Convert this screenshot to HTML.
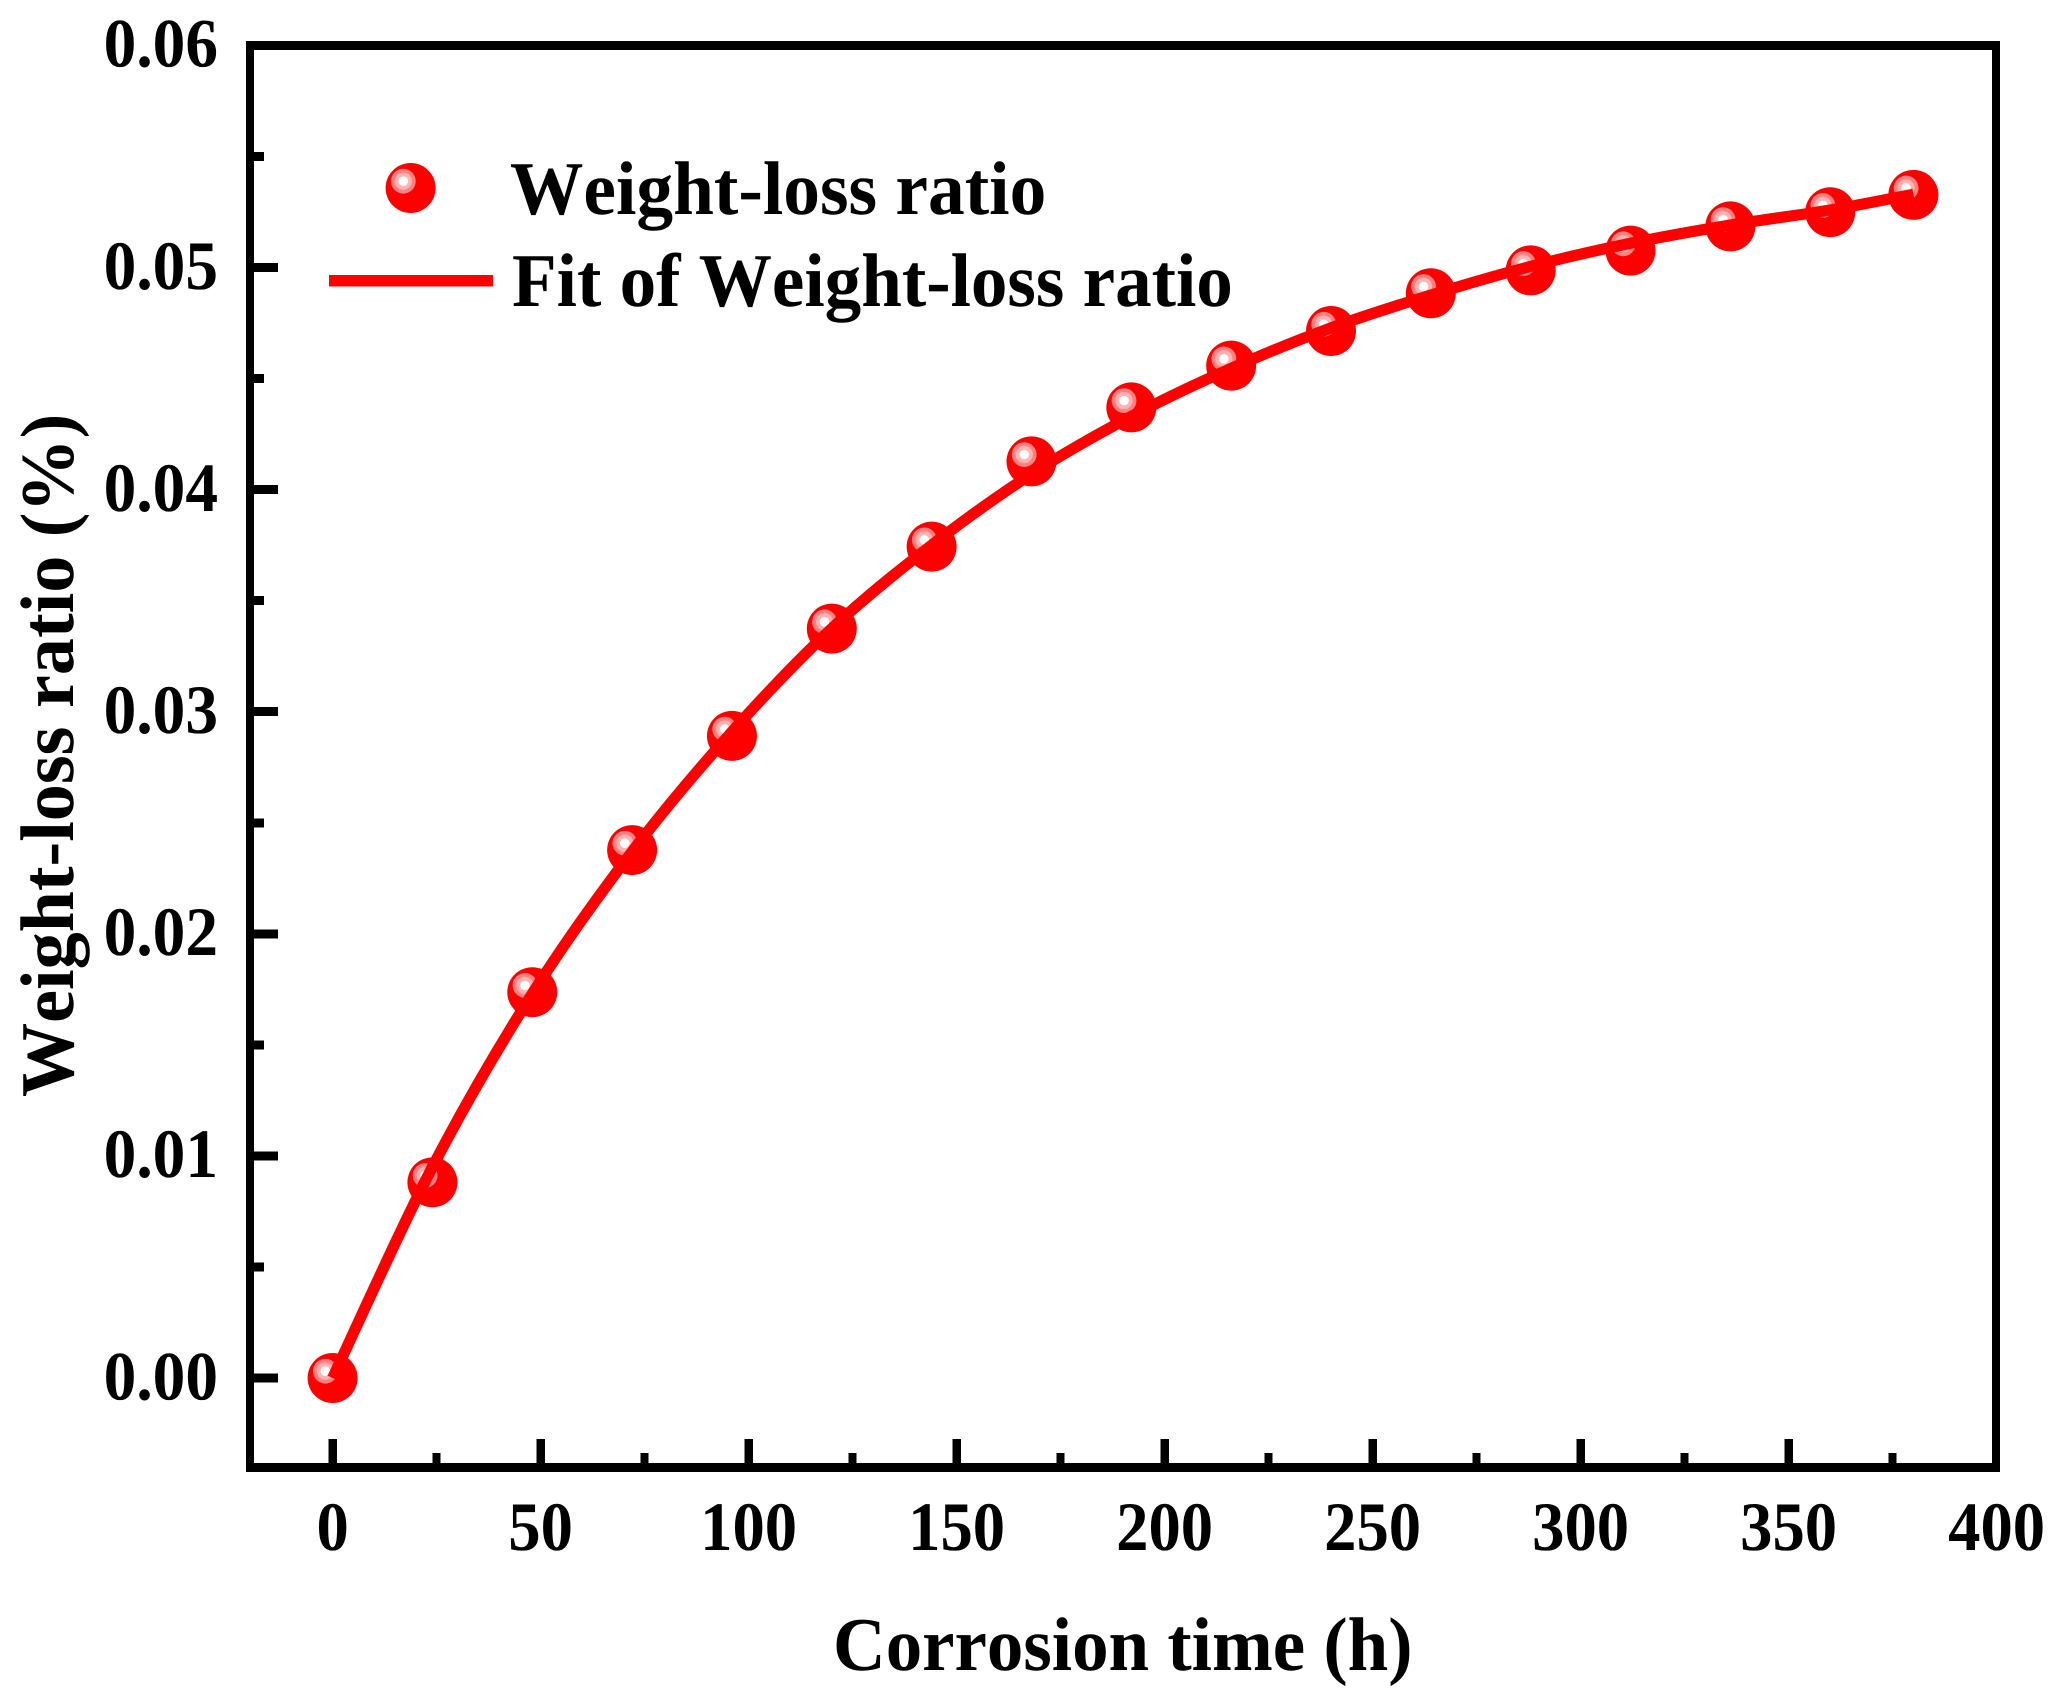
<!DOCTYPE html>
<html lang="en">
<head>
<meta charset="utf-8">
<title>Weight-loss ratio vs corrosion time</title>
<style>
  html, body { margin: 0; padding: 0; background: #ffffff; }
  svg { display: block; }
  text { font-family: "Liberation Serif", serif; font-weight: bold; fill: #000000; font-kerning: none; text-rendering: geometricPrecision; }
</style>
</head>
<body>
<svg id="chart" xmlns="http://www.w3.org/2000/svg" width="2061" height="1707" viewBox="0 0 2061 1707">
  <defs>
    <clipPath id="frame-clip"><rect x="246" y="41" width="1754" height="1431"/></clipPath>
  </defs>
  <rect x="0" y="0" width="2061" height="1707" fill="#ffffff"/>
  <g id="markers"></g>
  <path id="fit-line" fill="none" stroke="#ff0000" stroke-width="11.2" stroke-linecap="butt" stroke-linejoin="round"/>
  <g id="x-tick-marks" clip-path="url(#frame-clip)"></g>
  <g id="x-tick-labels"></g>
  <g id="y-ticks"></g>
  <path fill="#000000" fill-rule="evenodd" shape-rendering="crispEdges" d="M246 41H2000V1472H246Z M254 50V1463H1992V50Z"/>
  <text font-size="76" transform="translate(833,1670) scale(.96,1)">Corrosion time (h)</text>
  <text font-size="76" transform="translate(73,1097) rotate(-90) scale(.975,1)">Weight-loss ratio (%)</text>
  <g>
    <g id="legend-marker"></g>
    <rect x="329" y="275" width="164" height="11.5" fill="#ff0000"/>
    <text font-size="76" transform="translate(510,214) scale(.966,1)">Weight-loss ratio</text>
    <text font-size="76" transform="translate(512,306) scale(.962,1)">Fit of Weight-loss ratio</text>
  </g>
</svg>
<script>
const times = [0, 24, 48, 72, 96, 120, 144, 168, 192, 216, 240, 264, 288, 312, 336, 360, 380];
const weightLoss = [0, 0.00881, 0.01737, 0.02377, 0.02891, 0.03374, 0.03743, 0.04127, 0.0437, 0.04558, 0.04714, 0.04884, 0.04987, 0.05076, 0.05185, 0.05249, 0.05327];
const fitValues = [0, 0.0095, 0.0173, 0.0237, 0.0291, 0.03375, 0.0375, 0.0407, 0.0433, 0.04546, 0.04728, 0.04876, 0.05005, 0.05109, 0.05191, 0.05259, 0.0533];
const xMajorTicks = [0, 50, 100, 150, 200, 250, 300, 350, 400];
const xMajorLabels = ['0', '50', '100', '150', '200', '250', '300', '350', '400'];
const xMinorTicks = [25, 75, 125, 175, 225, 275, 325, 375];
const yMajorTicks = [0, 0.01, 0.02, 0.03, 0.04, 0.05, 0.06];
const yMajorLabels = ['0.00', '0.01', '0.02', '0.03', '0.04', '0.05', '0.06'];
const yMinorTicks = [0.005, 0.015, 0.025, 0.035, 0.045, 0.055];

const NS = 'http://www.w3.org/2000/svg';
function xScale(v) { return 332.6 + 4.16 * v; }
function yScale(v) { return 1378 - 22210 * v; }

function drawTick(parent, x1, y1, x2, y2, width) {
  const ln = document.createElementNS(NS, 'line');
  ln.setAttribute('x1', x1);
  ln.setAttribute('y1', y1);
  ln.setAttribute('x2', x2);
  ln.setAttribute('y2', y2);
  ln.setAttribute('stroke', '#000000');
  ln.setAttribute('stroke-width', width);
  ln.setAttribute('shape-rendering', 'crispEdges');
  parent.appendChild(ln);
  return ln;
}

function drawMarker(parent, cx, cy) {
  const g = document.createElementNS(NS, 'g');
  const layers = [
    [0, 0, 25, '#ff0000'],
    [-7.3, -6.8, 12.4, '#ff8080'],
    [-7.3, -6.8, 8.6, '#ffb3b3'],
    [-7.3, -6.8, 4.8, '#ffffff']
  ];
  layers.forEach(function (l) {
    const c = document.createElementNS(NS, 'circle');
    c.setAttribute('cx', cx + l[0]);
    c.setAttribute('cy', cy + l[1]);
    c.setAttribute('r', l[2]);
    c.setAttribute('fill', l[3]);
    g.appendChild(c);
  });
  parent.appendChild(g);
  return g;
}

const xTickMarks = document.getElementById('x-tick-marks');
const xTickLabels = document.getElementById('x-tick-labels');
xMajorTicks.forEach(function (v, i) {
  const t = drawTick(xTickMarks, xScale(v), 1439, xScale(v), 1465, 8.6);
  
  
  const label = document.createElementNS(NS, 'text');
  label.setAttribute('font-size', '69.5');
  label.setAttribute('text-anchor', 'middle');
  label.setAttribute('transform', 'translate(' + xScale(v) + ',1550) scale(.93,1)');
  label.textContent = xMajorLabels[i];
  
  
  xTickLabels.appendChild(label);
});
xMinorTicks.forEach(function (v) {
  const t = drawTick(xTickMarks, xScale(v), 1453, xScale(v), 1465, 8);
  
  
});

const yTickGroup = document.getElementById('y-ticks');
yMajorTicks.forEach(function (v, i) {
  const t = drawTick(yTickGroup, 252, yScale(v), 278, yScale(v), 9);
  
  
  const label = document.createElementNS(NS, 'text');
  label.setAttribute('font-size', '69.5');
  label.setAttribute('text-anchor', 'end');
  label.setAttribute('transform', 'translate(218,' + (yScale(v) + 21.3) + ') scale(.94,1)');
  label.textContent = yMajorLabels[i];
  
  
  yTickGroup.appendChild(label);
});
yMinorTicks.forEach(function (v) {
  const t = drawTick(yTickGroup, 252, yScale(v), 264, yScale(v), 9);
  
  
});

const markerGroup = document.getElementById('markers');
times.forEach(function (t, i) {
  const m = drawMarker(markerGroup, xScale(t), yScale(weightLoss[i]));
  
  
});

const legendMarker = drawMarker(document.getElementById('legend-marker'), 410.6, 188);



function smoothPath(xs, ys) {
  const px = xs.map(xScale);
  const py = ys.map(yScale);
  let d = 'M' + px[0].toFixed(2) + ' ' + py[0].toFixed(2);
  for (let i = 0; i < px.length - 1; i++) {
    const i0 = Math.max(i - 1, 0);
    const i3 = Math.min(i + 2, px.length - 1);
    const c1x = px[i] + (px[i + 1] - px[i0]) / 6;
    const c1y = py[i] + (py[i + 1] - py[i0]) / 6;
    const c2x = px[i + 1] - (px[i3] - px[i]) / 6;
    const c2y = py[i + 1] - (py[i3] - py[i]) / 6;
    d += ' C' + c1x.toFixed(2) + ' ' + c1y.toFixed(2) + ' ' + c2x.toFixed(2) + ' ' + c2y.toFixed(2) + ' ' + px[i + 1].toFixed(2) + ' ' + py[i + 1].toFixed(2);
  }
  return d;
}
document.getElementById('fit-line').setAttribute('d', smoothPath(times, fitValues));
</script>
</body>
</html>
